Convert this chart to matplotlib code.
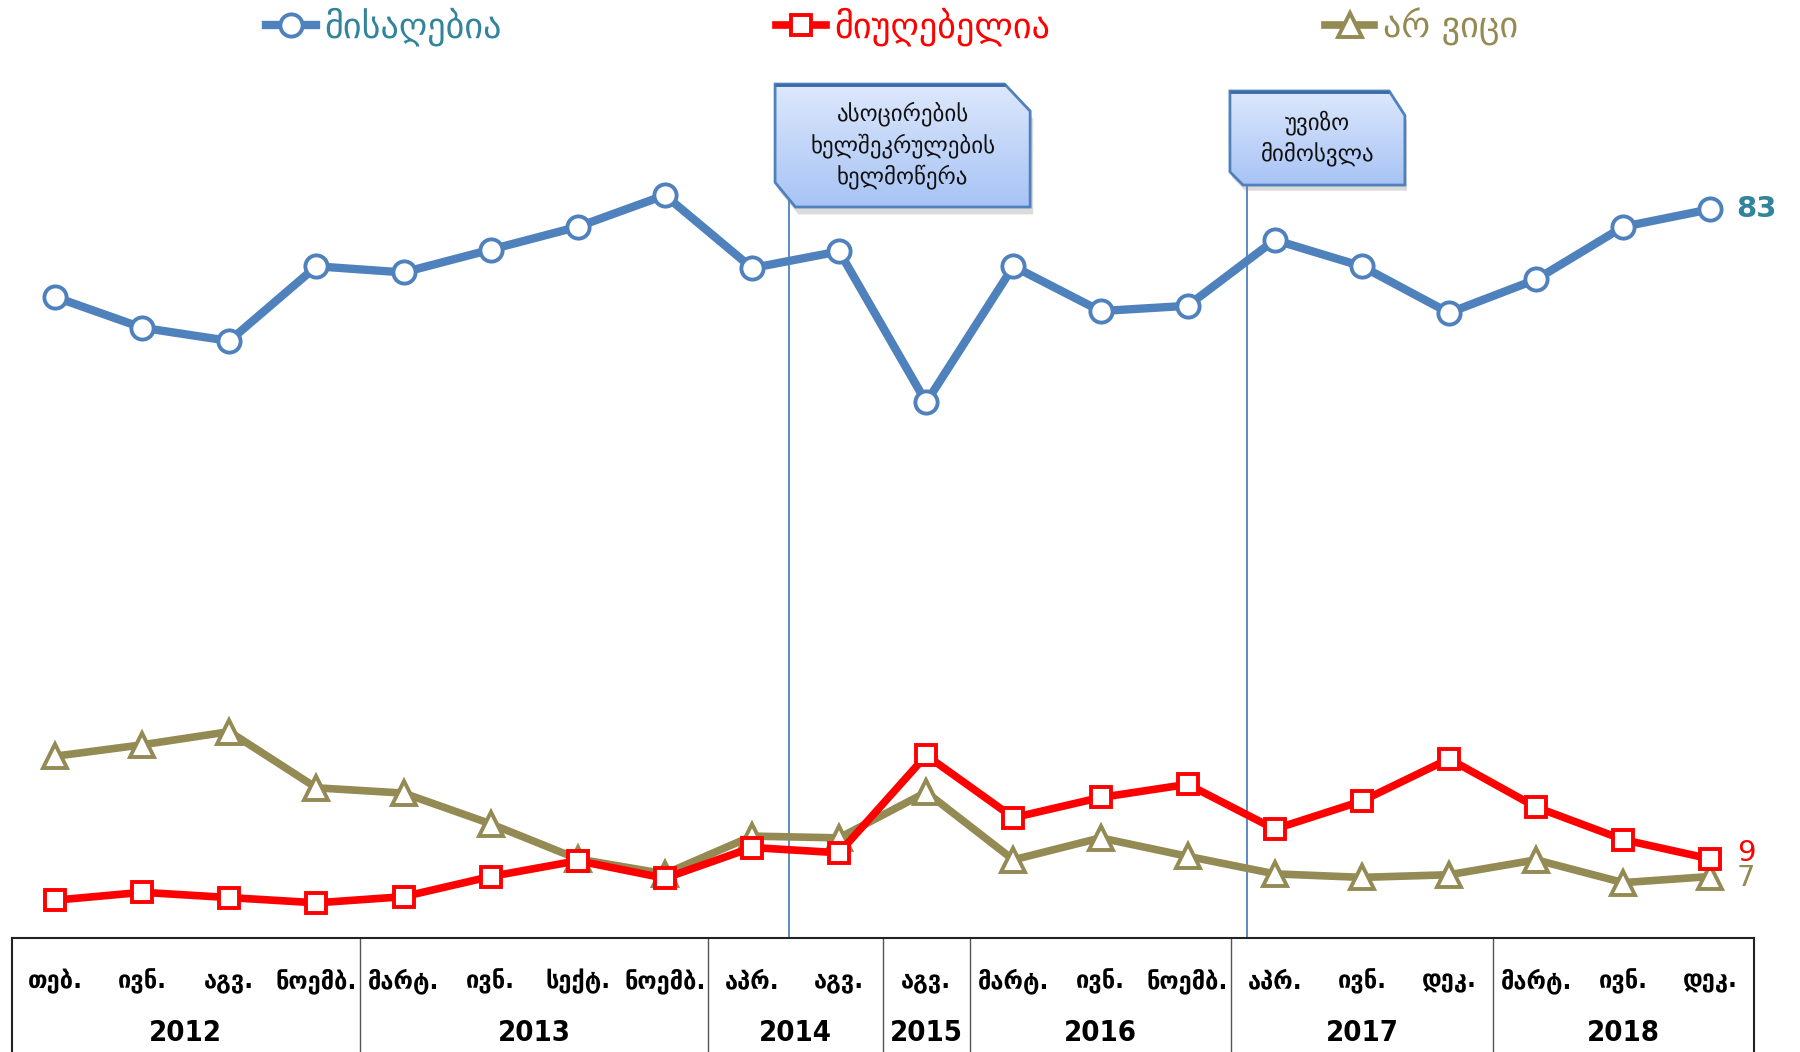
import matplotlib
matplotlib.use('Agg')
import numpy as np
import matplotlib.pyplot as plt
import matplotlib.transforms as mtransforms
from matplotlib.patches import Polygon
from matplotlib.colors import LinearSegmentedColormap

plt.rcParams['font.family'] = ['DejaVu Sans']

# მონაცემები
months = ['თებ.', 'ივნ.', 'აგვ.', 'ნოემბ.',
          'მარტ.', 'ივნ.', 'სექტ.', 'ნოემბ.',
          'აპრ.', 'აგვ.',
          'აგვ.',
          'მარტ.', 'ივნ.', 'ნოემბ.',
          'აპრ.', 'ივნ.', 'დეკ.',
          'მარტ.', 'ივნ.', 'დეკ.']
years = ['2012', '2013', '2014', '2015', '2016', '2017', '2018']
year_counts = [4, 4, 2, 1, 3, 3, 3]

acceptable = [73, 69.5, 68, 76.5, 75.8, 78.4, 81, 84.6, 76.3, 78.2, 61, 76.5, 71.4, 72, 79.5, 76.5, 71.2, 75, 81, 83]
unacceptable = [4.3, 5.2, 4.6, 4, 4.7, 7, 8.8, 6.8, 10.3, 9.7, 20.8, 13.7, 16, 17.5, 12.4, 15.6, 20.4, 14.9, 11.2, 9]
dont_know = [20.7, 22, 23.5, 17.1, 16.5, 13, 9, 7.3, 11.6, 11.4, 16.6, 8.9, 11.4, 9.3, 7.3, 6.9, 7.2, 8.9, 6.3, 7]

series_names = ['მისაღებია', 'მიუღებელია', 'არ ვიცი']
event_texts = ['ასოცირების\nხელშეკრულების\nხელმოწერა', 'უვიზო\nმიმოსვლა']
event_pos = [8.42, 13.68]

BLUE = '#4f81bd'
RED = '#ff0000'
OLIVE = '#948a54'
TEAL = '#31849b'

fig = plt.figure(figsize=(18, 10.52), dpi=100)
ax = fig.add_axes([0.0064, 0.1084, 0.968, 0.8346])
x = np.arange(len(months))

# ხაზები
l1, = ax.plot(x, acceptable, color=BLUE, lw=6, marker='o', ms=16,
              mfc='white', mec=BLUE, mew=2.8, zorder=5)
l2, = ax.plot(x, unacceptable, color=RED, lw=5.5, marker='s', ms=15,
              mfc='white', mec=RED, mew=2.8, zorder=4)
l3, = ax.plot(x, dont_know, color=OLIVE, lw=5.5, marker='^', ms=17,
              mfc='white', mec=OLIVE, mew=2.8, zorder=3)

ax.set_xlim(-0.5, 19.5)
ax.set_ylim(0, 100)
ax.set_xticks([])
ax.set_yticks([])
for s in ['left', 'right', 'top']:
    ax.spines[s].set_visible(False)
ax.spines['bottom'].set_color('#222222')
ax.spines['bottom'].set_linewidth(1.5)

# ბოლო მნიშვნელობები
ax.annotate(f'{acceptable[-1]:.0f}', (x[-1], acceptable[-1]), xytext=(19, 0),
            textcoords='offset points', va='center', ha='left',
            fontsize=21, fontweight='bold', color=TEAL, annotation_clip=False)
ax.annotate(f'{unacceptable[-1]:.0f}', (x[-1], unacceptable[-1]), xytext=(19, 4),
            textcoords='offset points', va='center', ha='left',
            fontsize=21, color=RED, annotation_clip=False)
ax.annotate(f'{dont_know[-1]:.0f}', (x[-1], dont_know[-1]), xytext=(19, -1),
            textcoords='offset points', va='center', ha='left',
            fontsize=21, color=OLIVE, annotation_clip=False)

# მოვლენების ხაზები
for ex in event_pos:
    ax.plot([ex, ex], [0, 90], color=BLUE, lw=1.3, zorder=2)

# ცხრილი ქვემოთ
trans = mtransforms.blended_transform_factory(ax.transData, fig.transFigure)
bottom = 0.1084
ax.plot([-0.5, -0.5], [0, bottom], color='#222222', lw=1.5, transform=trans, clip_on=False)
ax.plot([19.5, 19.5], [0, bottom], color='#222222', lw=1.5, transform=trans, clip_on=False)
start = 0
for cnt, yr in zip(year_counts, years):
    ax.text(start + (cnt - 1) / 2, 0.018, yr, transform=trans, ha='center', va='center',
            fontsize=21, fontweight='bold', fontstretch='condensed')
    if start + cnt < len(months):
        ax.plot([start + cnt - 0.5] * 2, [0, bottom], color='#555555', lw=1,
                transform=trans, clip_on=False)
    start += cnt
for i, m in enumerate(months):
    ax.text(i, 0.0675, m, transform=trans, ha='center', va='center',
            fontsize=17, fontweight='bold')

# ლეგენდა
leg = ax.legend([l1, l2, l3], series_names, loc='upper left',
                bbox_to_anchor=(0.148, 0.993), bbox_transform=fig.transFigure,
                ncol=3, frameon=False, fontsize=26, handlelength=1.36,
                handletextpad=0.25, columnspacing=7.6, borderpad=0, borderaxespad=0)
for t, c in zip(leg.get_texts(), [TEAL, RED, OLIVE]):
    t.set_color(c)

# გამოძახების ყუთები
cmap = LinearSegmentedColormap.from_list('box', ['#a7c3f5', '#dde8fc'])


def callout(rect, text, cut_tr, cut_bl):
    bax = fig.add_axes(rect)
    bax.set_xlim(0, 1)
    bax.set_ylim(0, 1)
    bax.axis('off')
    verts = [(0, cut_bl[1]), (0, 1), (1 - cut_tr[0], 1), (1, 1 - cut_tr[1]),
             (1, 0), (cut_bl[0], 0)]
    shadow = Polygon([(vx + 0.012, vy - 0.06) for vx, vy in verts], closed=True,
                     facecolor='#888888', edgecolor='none', alpha=0.3, clip_on=False,
                     zorder=0.5)
    bax.add_patch(shadow)
    poly = Polygon(verts, closed=True, facecolor='none', edgecolor=BLUE, lw=2,
                   clip_on=False, zorder=3)
    bax.add_patch(poly)
    grad = np.linspace(0, 1, 256).reshape(-1, 1)
    im = bax.imshow(grad, extent=[0, 1, 0, 1], origin='lower', aspect='auto',
                    cmap=cmap, zorder=1)
    im.set_clip_path(poly)
    bax.plot([0, 1 - cut_tr[0]], [1, 1], color='#3d6aa8', lw=3.5,
             solid_capstyle='butt', zorder=4)
    bax.text(0.5, 0.5, text, ha='center', va='center', fontsize=16.5, linespacing=1.35,
             color='#111111', zorder=5)


callout([0.4306, 0.8032, 0.1417, 0.1169], event_texts[0], (0.1, 0.22), (0.08, 0.2))
callout([0.6833, 0.8241, 0.0972, 0.0894], event_texts[1], (0.09, 0.26), (0.075, 0.14))

fig.savefig('out.png', dpi=100)
